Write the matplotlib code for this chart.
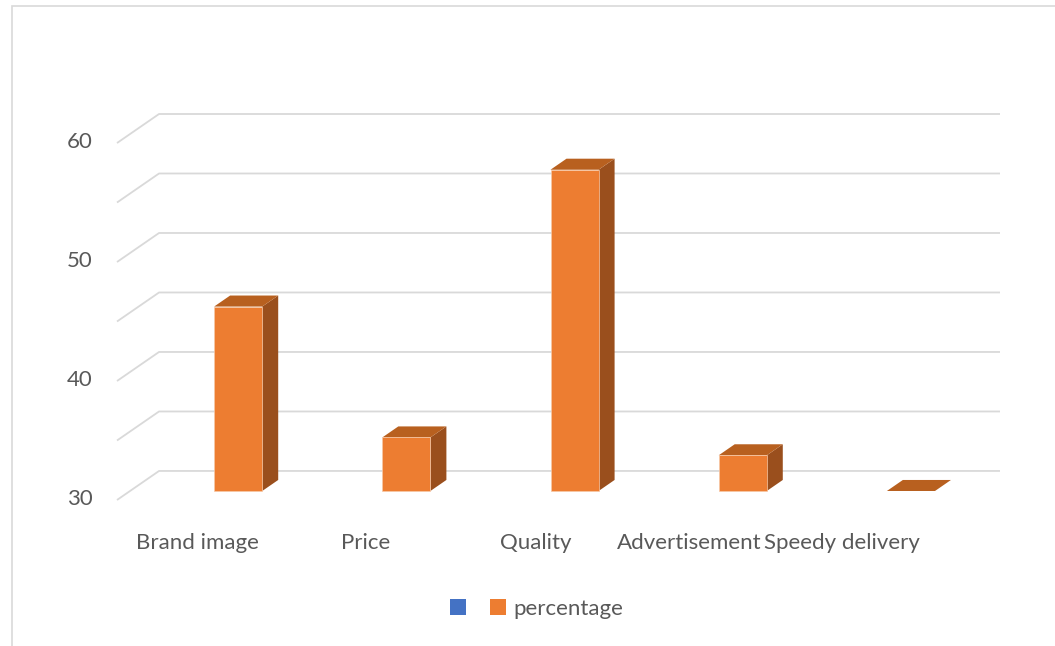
import matplotlib.pyplot as plt
from matplotlib.patches import Polygon, Rectangle, Patch
import numpy as np

# Data
categories = ["Brand image", "Price", "Quality", "Advertisement", "Speedy delivery"]
blank_series = [np.nan, np.nan, np.nan, np.nan, np.nan]
percentage = [45.5, 34.5, 57.0, 33.0, 30.0]
y_ticks = [30, 40, 50, 60]
grid_levels = [30, 35, 40, 45, 50, 55, 60]
label_shift = [-0.02, -0.02, -0.01, -0.1, -0.19]

# Colours
ORANGE = "#ED7D31"
ORANGE_TOP = "#B8601F"
ORANGE_SIDE = "#9A4F1D"
BLUE = "#4472C4"
GRID = "#D9D9D9"
TEXT = "#595959"

# 3D projection of the floor: full depth shift in data units
DEPTH_X = 0.25
DEPTH_Y = 2.44
BAR_W = 0.286
BAR_FRONT, BAR_BACK = 0.31, 0.69
FS = 16

plt.rcParams['font.family'] = ['Lato', 'DejaVu Sans']

fig = plt.figure(figsize=(10.55, 6.46), dpi=100)
ax = fig.add_axes([0, 0, 1, 1])
ax.set_xlim(-0.6956, 5.577)
ax.set_ylim(17.73, 72.02)
ax.axis('off')

# Chart area border
fig.patches.append(Rectangle((12 / 1055, -0.1), 1.2, 1.1 - 6 / 646, transform=fig.transFigure,
                             fill=False, edgecolor=GRID, lw=1.2))

# Walls: diagonal floor edge then back-wall gridline
for v in grid_levels:
    ax.plot([0, DEPTH_X, 5 + DEPTH_X], [v, v + DEPTH_Y, v + DEPTH_Y],
            color=GRID, lw=1.3, solid_capstyle='butt', zorder=1)

for v in y_ticks:
    ax.text(-0.145, v + 0.1, str(v), ha='right', va='center', fontsize=FS, color=TEXT)

base = grid_levels[0]


def draw_bar(x0, value, front, top, side):
    x1 = x0 + BAR_W
    fx = BAR_FRONT * DEPTH_X
    y0 = base + BAR_FRONT * DEPTH_Y
    x0f, x1f = x0 + fx, x1 + fx
    ytop = value + BAR_FRONT * DEPTH_Y
    dx = (BAR_BACK - BAR_FRONT) * DEPTH_X
    dy = (BAR_BACK - BAR_FRONT) * DEPTH_Y
    # side face
    ax.add_patch(Polygon([(x1f, y0), (x1f + dx, y0 + dy), (x1f + dx, ytop + dy), (x1f, ytop)],
                         closed=True, facecolor=side, edgecolor='none', zorder=3))
    # top face
    ax.add_patch(Polygon([(x0f, ytop), (x1f, ytop), (x1f + dx, ytop + dy), (x0f + dx, ytop + dy)],
                         closed=True, facecolor=top, edgecolor='none', zorder=3))
    # front face
    if value > base:
        ax.add_patch(Polygon([(x0f, y0), (x1f, y0), (x1f, ytop), (x0f, ytop)],
                             closed=True, facecolor=front, edgecolor='#F7C9A8', lw=0.5, zorder=4))


for i, (b, p) in enumerate(zip(blank_series, percentage)):
    center = i + 0.5
    if not np.isnan(b):
        draw_bar(center - BAR_W, b, BLUE, BLUE, BLUE)
    if not np.isnan(p):
        draw_bar(center, p, ORANGE, ORANGE_TOP, ORANGE_SIDE)

for i, (name, s) in enumerate(zip(categories, label_shift)):
    ax.text(i + 0.5 + s, 26.4, name, ha='center', va='center', fontsize=FS, color=TEXT)

handles = [Patch(facecolor=BLUE), Patch(facecolor=ORANGE)]
ax.legend(handles, ["", "percentage"], ncol=2, frameon=False, loc='center left',
          bbox_to_anchor=(439 / 1055, 1 - 609 / 646), fontsize=FS, labelcolor=TEXT,
          borderpad=0, handlelength=0.7, handleheight=0.7, handletextpad=0.35,
          columnspacing=0.75)

fig.savefig("out.png", dpi=100)
